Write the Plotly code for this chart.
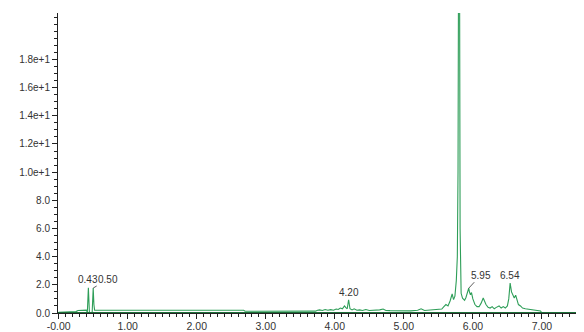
import plotly.graph_objects as go
import numpy as np

# Chromatogram signal (retention time in min, response)
rt = [0.00, 0.05, 0.10, 0.20, 0.25, 0.28, 0.35, 0.40, 0.415, 0.43, 0.445, 0.47, 0.485, 0.50, 0.51, 0.52,
      0.60, 1.00, 1.50, 2.00, 2.50, 2.68, 2.70, 3.00, 3.50, 3.72, 3.75,
      3.78, 3.82, 3.86, 3.90, 3.94, 3.98, 4.02, 4.05, 4.08, 4.11, 4.14, 4.16, 4.18, 4.20, 4.22,
      4.25, 4.28, 4.32, 4.36, 4.40, 4.45, 4.50, 4.55, 4.60, 4.65, 4.70, 4.74, 4.80, 4.90, 5.00,
      5.10, 5.20, 5.25, 5.30, 5.40, 5.45, 5.50, 5.55, 5.58, 5.61, 5.64, 5.67, 5.70, 5.72, 5.74,
      5.76, 5.775, 5.785, 5.795, 5.805, 5.815, 5.83, 5.85, 5.88, 5.90, 5.92, 5.94, 5.95, 5.965,
      5.98, 6.00, 6.03,
      6.06, 6.09, 6.12, 6.15, 6.17, 6.19, 6.22, 6.25, 6.28, 6.31, 6.34, 6.38, 6.41, 6.44, 6.47,
      6.50, 6.52, 6.54, 6.56, 6.58, 6.60, 6.62, 6.64, 6.66, 6.69, 6.72, 6.76, 6.80, 6.85, 6.90,
      6.95, 6.98, 7.00, 7.62]
resp = [0.05, 0.06, 0.08, 0.08, 0.10, 0.18, 0.20, 0.20, 0.05, 1.80, 0.05, 0.00, 0.05, 1.77, 0.60, 0.20,
        0.19, 0.19, 0.19, 0.19, 0.19, 0.19, 0.12, 0.12, 0.12, 0.13, 0.20,
        0.22, 0.18, 0.25, 0.20, 0.24, 0.20, 0.28, 0.25, 0.35, 0.30, 0.50, 0.38, 0.30, 0.94, 0.30,
        0.22, 0.30, 0.20, 0.22, 0.18, 0.25, 0.18, 0.20, 0.17, 0.22, 0.28, 0.18, 0.17, 0.15, 0.14,
        0.15, 0.20, 0.30, 0.18, 0.22, 0.20, 0.25, 0.28, 0.45, 0.60, 0.50, 0.85, 1.35, 0.95, 1.20,
        2.30, 4.00, 10.0, 30.0, 30.0, 6.00, 1.40, 1.05, 0.90, 1.10, 1.40, 1.76, 1.50, 1.30,
        1.45, 1.00, 0.60,
        0.45, 0.45, 0.70, 1.06, 0.80, 0.60, 0.40, 0.35, 0.45, 0.30, 0.40, 0.50, 0.35, 0.45, 0.35,
        0.50, 1.00, 2.12, 1.50, 1.30, 1.06, 1.27, 0.85, 0.60, 0.50, 0.35, 0.30, 0.28, 0.25, 0.22,
        0.20, 0.15, 0.00, 0.00]

# Peak labels
peak_rt = [0.43, 0.50, 4.20, 5.94, 6.54]
peak_resp = [1.80, 1.77, 0.94, 1.76, 2.12]
peak_text = ["0.43", "0.50", "4.20", "5.95", "6.54"]

x_tickvals = [0, 1, 2, 3, 4, 5, 6, 7]
x_ticktext = ["-0.00", "1.00", "2.00", "3.00", "4.00", "5.00", "6.00", "7.00"]
y_tickvals = [0, 2, 4, 6, 8, 10, 12, 14, 16, 18, 20]
y_ticktext = ["0.0", "2.0", "4.0", "6.0", "8.0", "1.0e+1", "1.2e+1", "1.4e+1", "1.6e+1", "1.8e+1", ""]

XR = [-0.01, 7.61]
YR = [0, 21.3]

fig = go.Figure()
fig.add_trace(go.Scatter(x=rt, y=resp, mode="lines",
                         line=dict(color="#2e9e58", width=1.1),
                         hoverinfo="skip", showlegend=False))
fig.add_trace(go.Scatter(x=XR, y=[0, 0], mode="lines",
                         line=dict(color="#1c6e38", width=2),
                         hoverinfo="skip", showlegend=False))

offsets = {"0.43": (0, -8, False), "0.50": (15, -9, True), "4.20": (0, -7, False),
           "5.95": (12, -13, True), "6.54": (0, -8, False)}
for px, py, t in zip(peak_rt, peak_resp, peak_text):
    ax, ay, arrow = offsets[t]
    fig.add_annotation(x=px, y=py, xref="x", yref="y", text=t, showarrow=True,
                       ax=ax, ay=ay, axref="pixel", ayref="pixel",
                       arrowhead=0, arrowwidth=0.8, standoff=0,
                       arrowcolor="#333333" if arrow else "rgba(0,0,0,0)",
                       font=dict(family="Liberation Sans, Arial", size=10, color="#333333"))

# The page body adds an 8px margin; the figure is sized so it fits the window.
fig.update_layout(
    width=576, height=324,
    margin=dict(l=50, r=0, t=5, b=17),
    paper_bgcolor="white", plot_bgcolor="white",
    font=dict(family="Liberation Sans, Arial", size=10, color="#333333"),
    xaxis=dict(range=XR, tickmode="array", tickvals=x_tickvals, ticktext=x_ticktext,
               showgrid=False, zeroline=False, showline=True, linecolor="#222222", linewidth=1,
               ticks="outside", ticklen=5, tickcolor="#222222", tickwidth=1,
               ticklabelstandoff=-2,
               tickfont=dict(size=10.5, color="#333333"),
               minor=dict(tickmode="array", tickvals=list(np.round(np.arange(0, 7.61, 0.1), 2)),
                          ticks="outside", ticklen=3, tickcolor="#222222", showgrid=False)),
    yaxis=dict(range=YR, tickmode="array", tickvals=y_tickvals, ticktext=y_ticktext,
               showgrid=False, zeroline=False, showline=True, linecolor="#222222", linewidth=1,
               ticks="outside", ticklen=5, tickcolor="#222222", tickwidth=1,
               tickfont=dict(size=10, color="#333333"),
               minor=dict(tickmode="array", tickvals=list(np.arange(0, 21.3, 0.5)),
                          ticks="outside", ticklen=3, tickcolor="#222222", showgrid=False)),
)

fig.write_html("out.html")
